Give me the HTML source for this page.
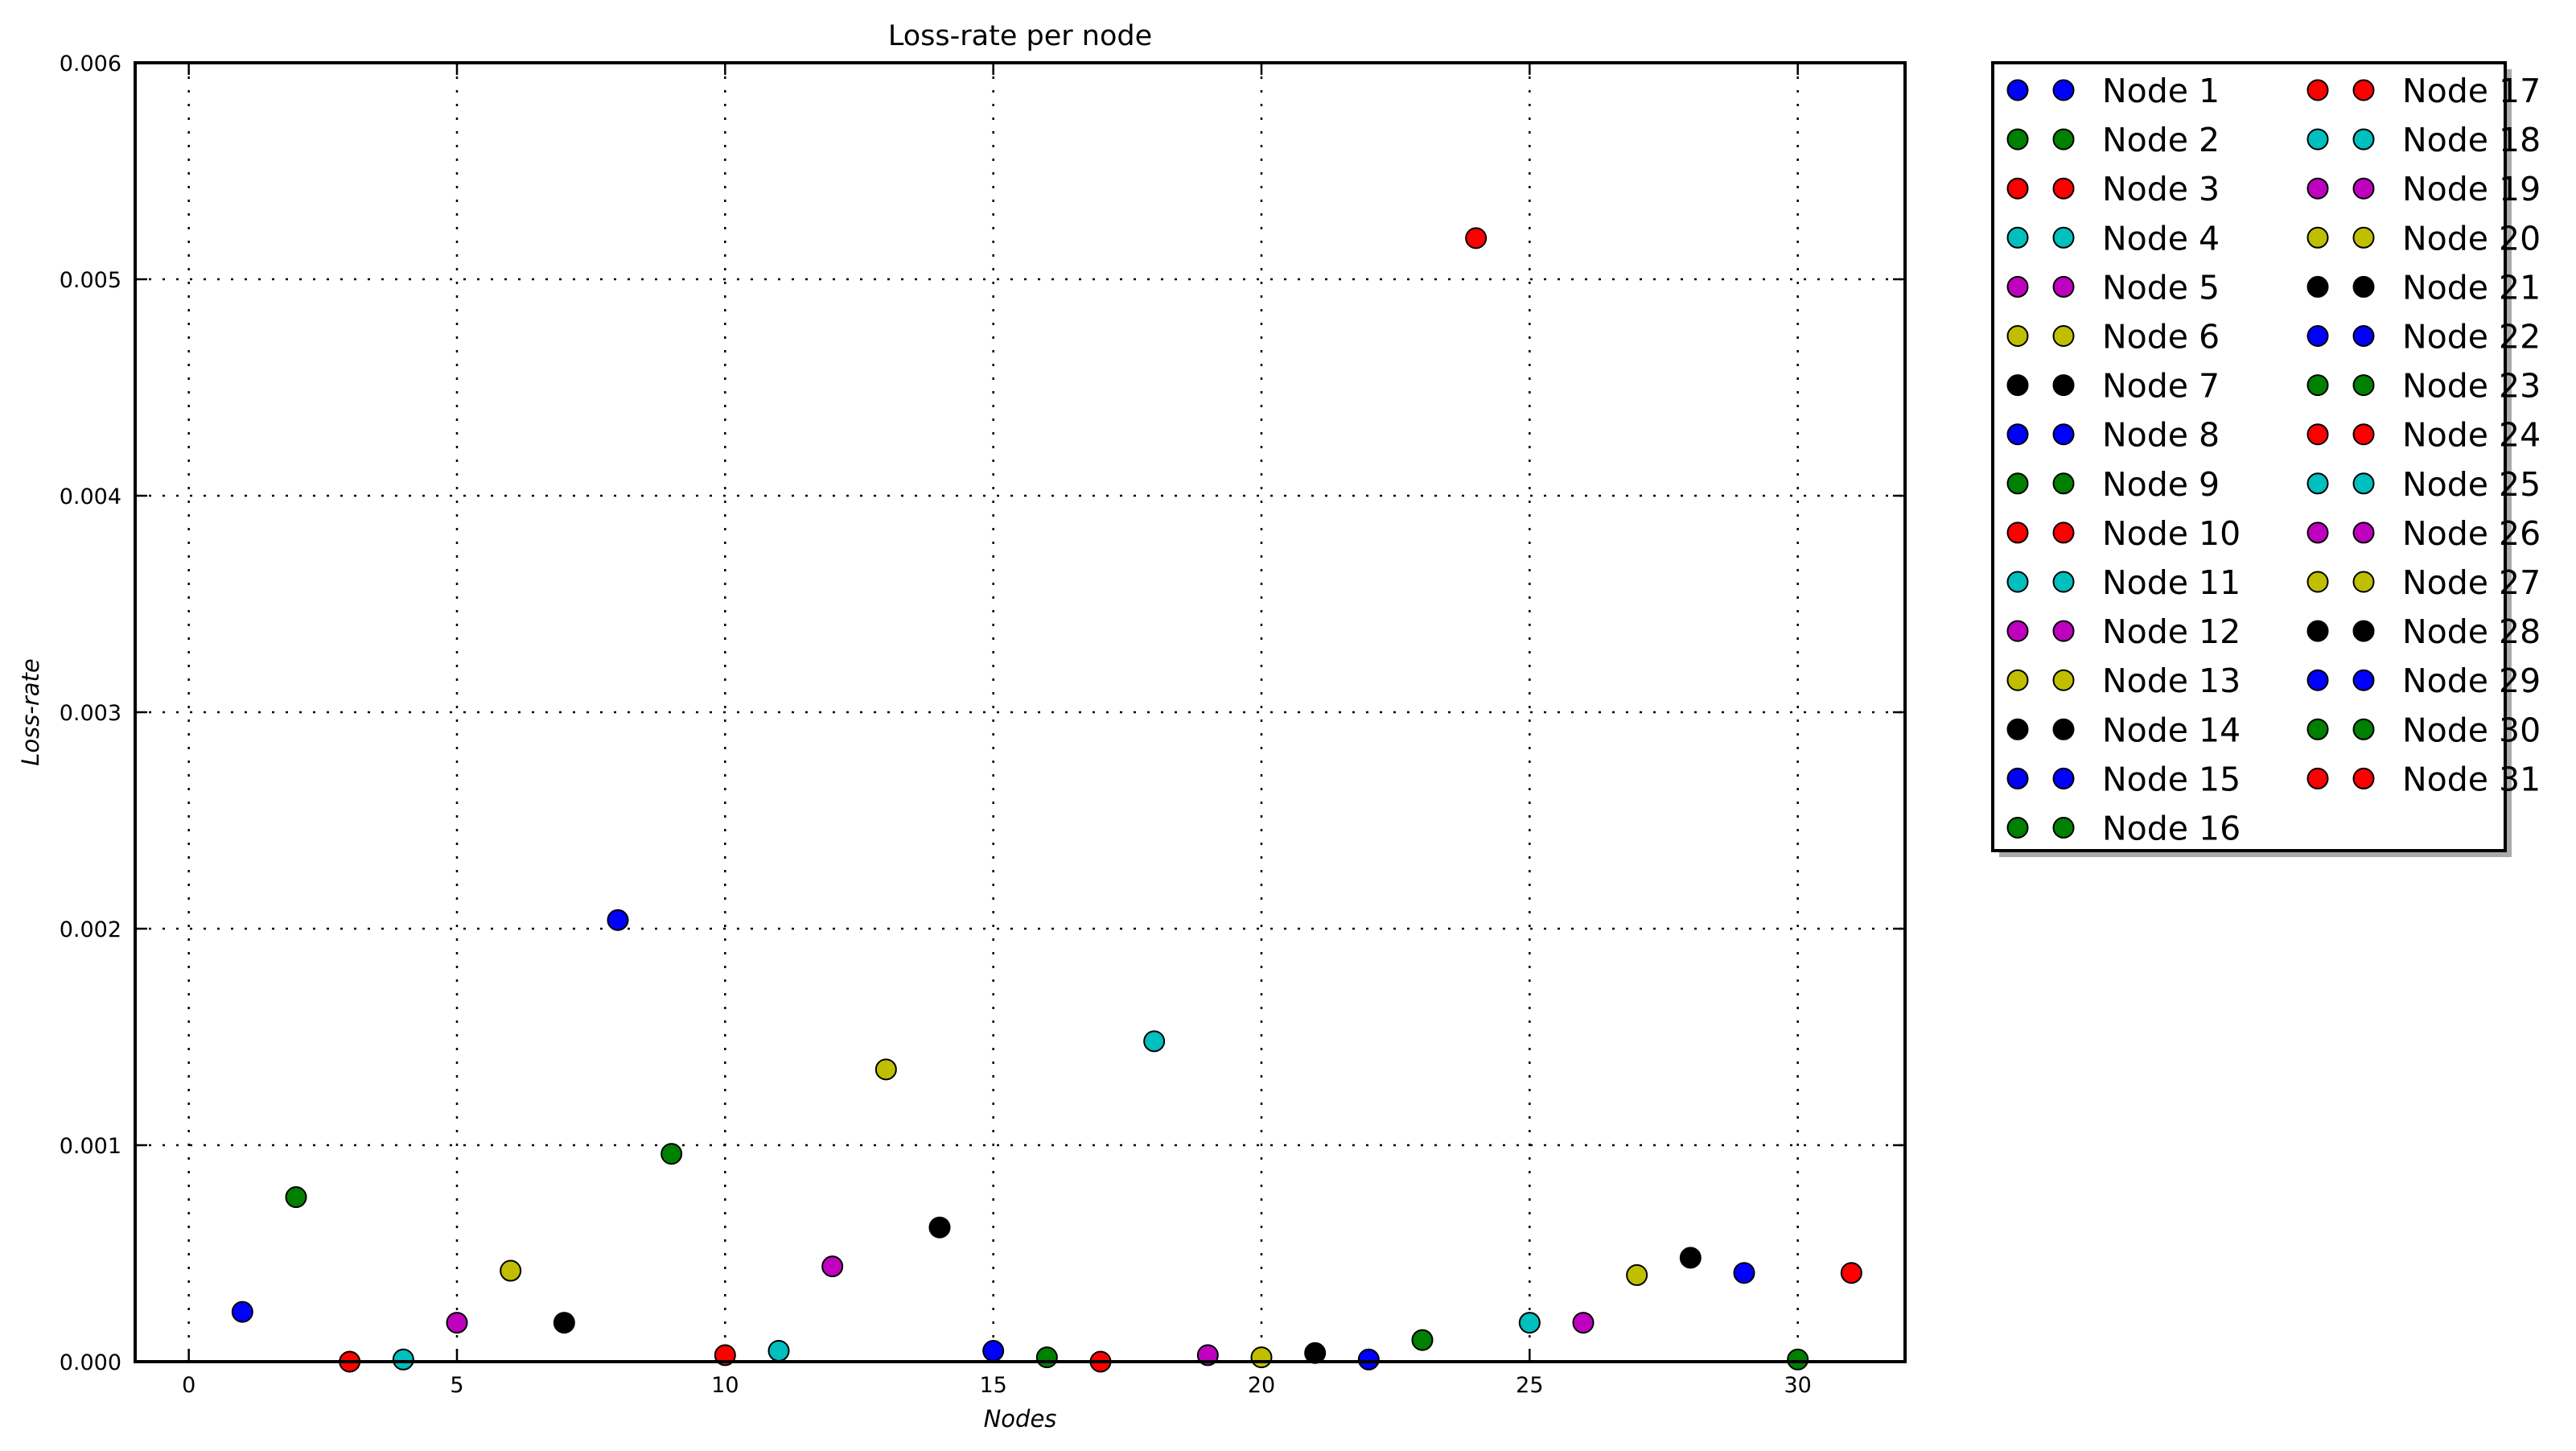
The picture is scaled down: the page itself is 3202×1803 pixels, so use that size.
<!DOCTYPE html>
<html><head><meta charset="utf-8"><style>
html,body{margin:0;padding:0;background:#fff;}
svg{display:block;font-family:"DejaVu Sans","Liberation Sans",sans-serif;}
</style></head><body>
<svg id="chart" width="3202" height="1803" viewBox="0 0 3202 1803" xmlns="http://www.w3.org/2000/svg">
<text x="1268" y="56" font-size="35" text-anchor="middle">Loss-rate per node</text>
<g id="grid"></g>
<g id="ticks"></g>
<g id="points"></g>
<rect x="168" y="78" width="2200" height="1614" fill="none" stroke="#000" stroke-width="4"/>
<text x="1268" y="1773" font-size="29" font-style="italic" text-anchor="middle">Nodes</text>
<text transform="translate(48,885) rotate(-90)" font-size="29" font-style="italic" text-anchor="middle">Loss-rate</text>
<g id="legend">
<rect x="2485" y="86" width="637" height="979" fill="#aaa"/>
<rect x="2477" y="78" width="637" height="979" fill="#fff" stroke="#000" stroke-width="4"/>
</g>
</svg>
<script>
const nodes=[1,2,3,4,5,6,7,8,9,10,11,12,13,14,15,16,17,18,19,20,21,22,23,24,25,26,27,28,29,30,31];
const lossRates=[0.00023,0.00076,0.0,0.00001,0.00018,0.00042,0.00018,0.00204,0.00096,0.00003,0.00005,0.00044,0.00135,0.00062,0.00005,0.00002,0.0,0.00148,0.00003,0.00002,0.00004,0.00001,0.0001,0.00519,0.00018,0.00018,0.0004,0.00048,0.00041,0.00001,0.00041];
const xTicks=[0,5,10,15,20,25,30];
const yTicks=[0,0.001,0.002,0.003,0.004,0.005,0.006];
const yTickLabels=["0.000","0.001","0.002","0.003","0.004","0.005","0.006"];
const palette=["#0000ff","#008000","#ff0000","#00bfbf","#bf00bf","#bfbf00","#000000"];
const NS="http://www.w3.org/2000/svg";
const L=168,R=2368,T=78,B=1692;
const X=v=>L+(v+1)/33*(R-L);
const Y=v=>B-v/0.006*(B-T);
function mk(tag,attrs,parent){const e=document.createElementNS(NS,tag);for(const k in attrs)e.setAttribute(k,attrs[k]);parent.appendChild(e);return e;}
const grid=document.getElementById('grid'),ticks=document.getElementById('ticks'),pts=document.getElementById('points'),leg=document.getElementById('legend');
xTicks.forEach(t=>{
  const x=X(t);
  const g=mk('line',{x1:x,x2:x,y1:T,y2:B,stroke:'#000','stroke-width':2.5,'stroke-dasharray':'3,14'},grid);
  
  
  mk('line',{x1:x,x2:x,y1:B,y2:B-15,stroke:'#000','stroke-width':2.5},ticks);
  mk('line',{x1:x,x2:x,y1:T,y2:T+15,stroke:'#000','stroke-width':2.5},ticks);
  const tx=mk('text',{x:x,y:1730,'font-size':27,'text-anchor':'middle'},ticks);
  tx.textContent=t;
  
  
});
yTicks.forEach((t,i)=>{
  const y=Y(t);
  const g=mk('line',{x1:L,x2:R,y1:y,y2:y,stroke:'#000','stroke-width':2.5,'stroke-dasharray':'3,14'},grid);
  
  
  mk('line',{x1:L,x2:L+15,y1:y,y2:y,stroke:'#000','stroke-width':2.5},ticks);
  mk('line',{x1:R,x2:R-15,y1:y,y2:y,stroke:'#000','stroke-width':2.5},ticks);
  const tx=mk('text',{x:151,y:y+10,'font-size':27,'text-anchor':'end'},ticks);
  tx.textContent=yTickLabels[i];
  
  
});
nodes.forEach((n,i)=>{
  const c=mk('circle',{cx:X(n),cy:Y(lossRates[i]),r:12.5,fill:palette[i%7],stroke:'#000','stroke-width':2},pts);
  
  
  const col=i<16?0:1,row=i<16?i:i-16;
  const y=112+row*61.1,x0=col?2881:2508;
  [x0,x0+57].forEach(mx=>{
    const m=mk('circle',{cx:mx,cy:y,r:12.5,fill:palette[i%7],stroke:'#000','stroke-width':2},leg);
    
    
  });
  const t=mk('text',{x:x0+105,y:y+15,'font-size':41},leg);
  t.textContent='Node '+n;
  
  
});
</script>
</body></html>
